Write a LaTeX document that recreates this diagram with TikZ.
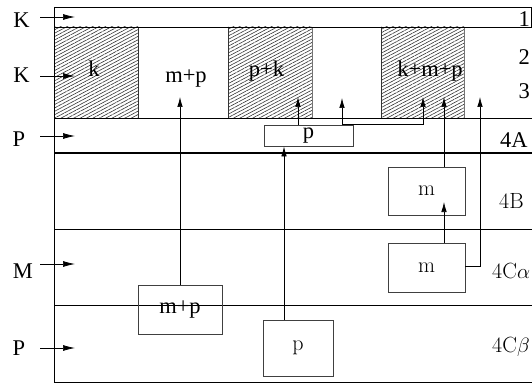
\documentclass[tikz,border=0pt]{standalone}
\usepackage{fontspec}
\newfontfamily\tms{Liberation Serif}
\usetikzlibrary{arrows.meta,patterns.meta}
\begin{document}
\begin{tikzpicture}[x=1pt,y=-1pt,
  frame/.style={line width=0.8pt},
  heavy/.style={line width=1.4pt},
  sep/.style={line width=0.7pt,draw=black!80},
  hatch/.style={pattern={Lines[angle=28,distance=3pt,line width=0.6pt]},pattern color=black!80},
  arr/.style={-{Latex[length=10pt,width=5.5pt]},line width=0.7pt},
  leftarr/.style={-{Latex[length=12pt,width=6pt]},line width=0.7pt},
  box/.style={draw=black!75,line width=0.8pt,inner sep=0pt,anchor=center},
  tlab/.style={font=\tms\fontsize{22.5}{26}\selectfont,inner sep=0pt,anchor=base},
  clab/.style={font=\fontsize{22}{26}\selectfont,inner sep=0pt,anchor=base},
]
\useasboundingbox (0,0) rectangle (532,385);

% hatched columns of the upper band
\fill[hatch] (54,27) rectangle (138,118);
\fill[hatch] (228,27) rectangle (312,118);
\fill[hatch] (381,27) rectangle (464,118);
\foreach \cx in {138,228,381}
  \draw[sep] (\cx,27) -- (\cx,118);
\foreach \cx in {312,464}
  \draw[line width=0.7pt,draw=black!55] (\cx,27) -- (\cx,118);

% frame and band boundaries
\draw[frame] (54,7) rectangle (531,27);
\draw[frame] (54,7) -- (54,382);
\draw[frame] (54,118) -- (532,118);
\draw[heavy] (54,153) -- (532,153);
\draw[frame] (54,229) -- (532,229);
\draw[frame] (54,305.7) -- (532,305.7);
\draw[frame] (54,382) -- (532,382);

% column labels
\node[tlab] (lk)   at (94,77)  {k};
\node[tlab] (lmp)  at (186,83) {m+p};
\node[tlab] (lpk)  at (266.5,77) {p+k};
\node[tlab] (lkmp) at (430,77) {k+m+p};

% band numbers
\node[tlab,anchor=base east] (n1) at (530,27) {1};
\node[tlab,anchor=base east] (n2) at (530,65) {2};
\node[tlab,anchor=base east] (n3) at (530,99) {3};
\node[tlab,anchor=base west] (n4a) at (500,147) {4A};
\node[clab,anchor=base west] (n4b) at (499,208) {4B};
\node[clab,anchor=base west] (n4ca) at (492,278) {4C$\alpha$};
\node[clab,anchor=base west] (n4cb) at (492,352) {4C$\beta$};

% inputs on the left
\node[tlab] (inK1) at (21.5,28) {K};
\node[tlab] (inK2) at (21.5,83) {K};
\node[tlab] (inP1) at (19,146) {P};
\node[tlab] (inM)  at (23,278) {M};
\node[tlab] (inP2) at (19,355) {P};
\foreach \nm/\yy in {a/17,b/76,c/136,d/264,e/348} {
  \coordinate (\nm s) at (40,\yy);
  \coordinate (\nm t) at (75,\yy);
  \draw[leftarr] (\nm s) -- (\nm t);
}

% boxes
\node[box,minimum width=89pt,minimum height=21pt] (pA) at (308.5,135.5) {\tms\fontsize{22.5}{26}\selectfont p};
\node[box,minimum width=77pt,minimum height=48pt] (mB) at (426.5,191) {\fontsize{22}{26}\selectfont m};
\node[box,minimum width=77pt,minimum height=49pt] (mC) at (426.5,267.5) {\fontsize{22}{26}\selectfont m};
\node[box,minimum width=84pt,minimum height=49pt] (mp) at (180,309.5) {\tms\fontsize{22.5}{26}\selectfont m+p};
\node[box,minimum width=70pt,minimum height=56pt] (pb) at (298,348) {\fontsize{22}{26}\selectfont p};

% arrow targets in the upper band
\coordinate (tmp)  at (180,97);
\coordinate (tpk)  at (298,97);
\coordinate (tw)   at (342,98);
\coordinate (tkmp) at (423,97);
\coordinate (tkm)  at (444,97);
\coordinate (tr)   at (480,97);
\coordinate (tmB)  at (444,202);

% connectors
\draw[arr] (mp.north) -- (tmp);
\draw[arr] ([xshift=-14pt]pb.north) -- ([xshift=-14pt]pb.north |- pA.south);
\draw[arr] (pA.north -| tpk) -- (tpk);
\draw[arr] (pA.north -| tw) -- (tw);
\draw[arr] (pA.north -| tw) -- (pA.north -| tkmp) -- (tkmp);
\draw[arr] (mB.north -| tkm) -- (tkm);
\draw[arr] (mC.north -| tmB) -- (tmB);
\draw[arr] ([yshift=1.5pt]mC.east) -- ([yshift=1.5pt]mC.east -| tr) -- (tr);
\end{tikzpicture}
\end{document}
